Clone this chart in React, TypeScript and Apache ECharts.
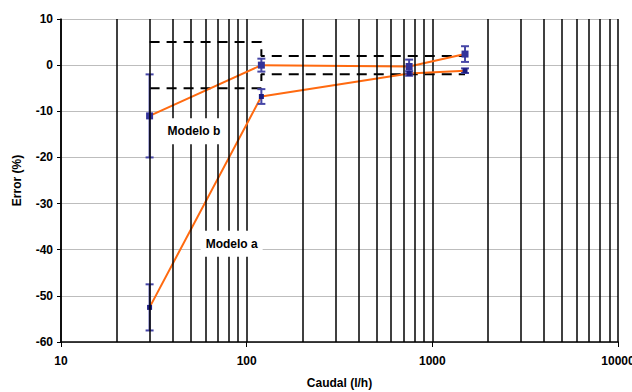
import React, { useEffect, useRef } from "react";
import * as echarts from "echarts";

const flow = [30, 120, 750, 1500];
const modeloA = [-52.5, -6.8, -1.8, -1.2];
const modeloAErr = [5, 1.6, 0.5, 0.5];
const modeloB = [-11, 0, -0.3, 2.4];
const modeloBErr = [9, 1.4, 1.5, 1.7];
const upperLimit: [number, number][] = [[30, 5], [120, 5], [120, 2], [1500, 2]];
const lowerLimit: [number, number][] = [[30, -5], [120, -5], [120, -2], [1500, -2]];
const minorGrid = [20, 30, 40, 50, 60, 70, 80, 90, 200, 300, 400, 500, 600, 700, 800, 900, 2000, 3000, 4000, 5000, 6000, 7000, 8000, 9000];
const labelB = { text: "Modelo b", coord: [52, -14.3] };
const labelA = { text: "Modelo a", coord: [83, -38.7] };

const FONT = "'Liberation Sans', Arial, sans-serif";

function errRender(markerSize: number, markerColor: string) {
  return (params: any, api: any) => {
    const x = api.value(0), y = api.value(1), e = api.value(2);
    const t = api.coord([x, y + e]);
    const b = api.coord([x, y - e]);
    const c = api.coord([x, y]);
    const cap = 4;
    const st = { stroke: "#4646a6", lineWidth: 2 };
    return {
      type: "group",
      children: [
        { type: "line", shape: { x1: t[0], y1: t[1], x2: b[0], y2: b[1] }, style: st },
        { type: "line", shape: { x1: t[0] - cap, y1: t[1], x2: t[0] + cap, y2: t[1] }, style: st },
        { type: "line", shape: { x1: b[0] - cap, y1: b[1], x2: b[0] + cap, y2: b[1] }, style: st },
        { type: "rect", shape: { x: c[0] - markerSize / 2, y: c[1] - markerSize / 2, width: markerSize, height: markerSize }, style: { fill: markerColor } },
      ],
    };
  };
}

export default function App() {
  const ref = useRef<HTMLDivElement>(null);
  useEffect(() => {
    const chart = echarts.init(ref.current!, null, { renderer: "svg" });
    const labelStyle = { fontFamily: FONT, fontWeight: "bold", fontSize: 12, color: "#000" };
    chart.setOption({
      animation: false,
      grid: { left: 61, right: 14, top: 19, bottom: 50, containLabel: false, outerBoundsMode: "none" },
      xAxis: {
        type: "log",
        logBase: 10,
        min: 10,
        max: 10000,
        name: "Caudal (l/h)",
        nameLocation: "middle",
        nameGap: 35,
        nameTextStyle: { ...labelStyle },
        axisLine: { onZero: false, lineStyle: { color: "#000", width: 1.5 } },
        axisTick: { show: true, length: 5, lineStyle: { color: "#000" } },
        axisLabel: { ...labelStyle, margin: 13, formatter: (v: number) => String(Math.round(v)) },
        splitLine: { show: true, lineStyle: { color: "#000", width: 1.5 } },
      },
      yAxis: {
        type: "value",
        min: -60,
        max: 10,
        interval: 10,
        name: "Error (%)",
        nameLocation: "middle",
        nameGap: 38,
        nameTextStyle: { ...labelStyle },
        axisLine: { show: true, onZero: false, lineStyle: { color: "#000", width: 1.5 } },
        axisTick: { show: true, length: 4, lineStyle: { color: "#000" } },
        axisLabel: { ...labelStyle, margin: 8 },
        splitLine: { show: true, lineStyle: { color: "#bdbdbd", width: 1 } },
      },
      series: [
        {
          type: "line",
          data: [],
          z: 1,
          silent: true,
          markLine: {
            silent: true,
            symbol: ["none", "none"],
            label: { show: false },
            lineStyle: { color: "#000", width: 1.5, type: "solid" },
            data: minorGrid.map((v) => ({ xAxis: v })),
          },
        },
        {
          type: "line",
          data: upperLimit,
          symbol: "none",
          z: 2,
          lineStyle: { color: "#000", width: 2, type: [10, 7] },
        },
        {
          type: "line",
          data: lowerLimit,
          symbol: "none",
          z: 2,
          lineStyle: { color: "#000", width: 2, type: [10, 7] },
        },
        {
          type: "line",
          data: flow.map((f, i) => [f, modeloB[i]]),
          symbol: "none",
          z: 3,
          lineStyle: { color: "#ff6a10", width: 2 },
          markPoint: {
            symbol: "rect",
            symbolSize: 0,
            data: [
              {
                coord: labelB.coord,
                value: labelB.text,
                label: {
                  show: true,
                  formatter: labelB.text,
                  ...labelStyle,
                  backgroundColor: "#fff",
                  padding: [7, 4],
                },
              },
              {
                coord: labelA.coord,
                value: labelA.text,
                label: {
                  show: true,
                  formatter: labelA.text,
                  ...labelStyle,
                  backgroundColor: "#fff",
                  padding: [7, 5],
                },
              },
            ],
          },
        },
        {
          type: "line",
          data: flow.map((f, i) => [f, modeloA[i]]),
          symbol: "none",
          z: 3,
          lineStyle: { color: "#ff6a10", width: 2 },
        },
        {
          type: "custom",
          z: 4,
          renderItem: errRender(7, "#33339a"),
          encode: { x: 0, y: 1 },
          data: flow.map((f, i) => [f, modeloB[i], modeloBErr[i]]),
        },
        {
          type: "custom",
          z: 4,
          renderItem: errRender(5, "#1c1c80"),
          encode: { x: 0, y: 1 },
          data: flow.map((f, i) => [f, modeloA[i], modeloAErr[i]]),
        },
      ],
    });
    return () => chart.dispose();
  }, []);
  return (
    <div
      ref={ref}
      style={{ position: "absolute", left: 0, top: 0, width: 632, height: 392, background: "#fff" }}
    />
  );
}
